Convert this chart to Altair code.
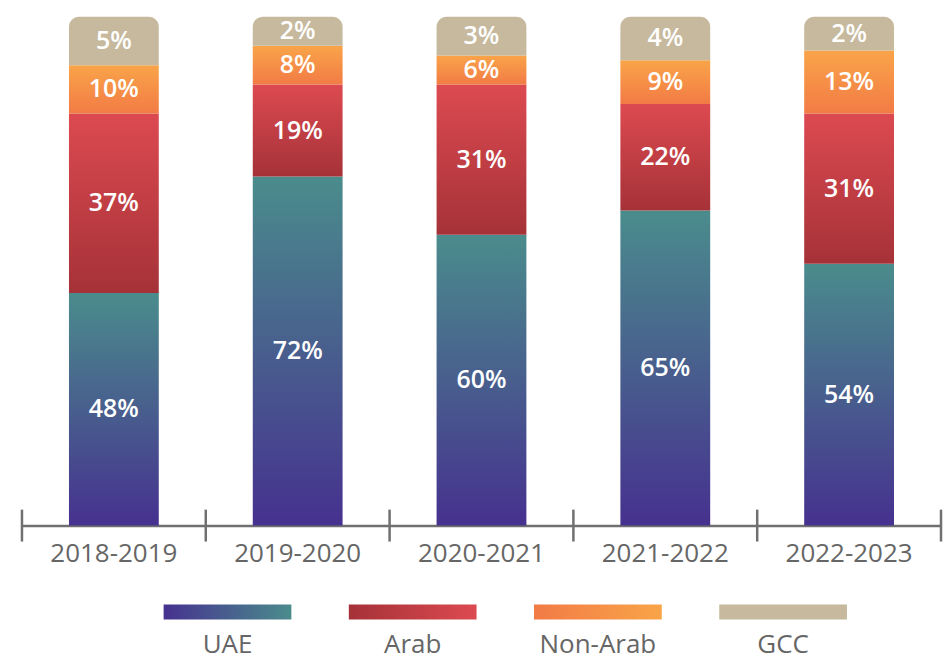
import altair as alt
import pandas as pd

# ---- data ----
years = ["2018-2019", "2019-2020", "2020-2021", "2021-2022", "2022-2023"]
uae = [48, 72, 60, 65, 54]
arab = [37, 19, 31, 22, 31]
non_arab = [10, 8, 6, 9, 13]
gcc = [5, 2, 3, 4, 2]
groups = ["UAE", "Arab", "Non-Arab", "GCC"]

TOP = 105  # common top of the stacked columns (GCC segment fills up to it)

series = {"UAE": uae, "Arab": arab, "Non-Arab": non_arab, "GCC": gcc}
rows = []
for i, yr in enumerate(years):
    base = 0
    for g in groups:
        v = series[g][i]
        y0 = base
        y1 = TOP if g == "GCC" else base + v
        rows.append({"year": yr, "group": g, "value": v, "y0": y0, "y1": y1,
                     "mid": (y0 + y1) / 2, "label": f"{v}%"})
        base += v
df = pd.DataFrame(rows)

# ---- colours ----
cols = {
    "UAE": ("#46318f", "#4a8c8c"),
    "Arab": ("#a53238", "#dc4a50"),
    "Non-Arab": ("#f27b45", "#f9a449"),
    "GCC": ("#c6b99e", "#c6b99e"),
}


def vgrad(bottom, top):
    return alt.LinearGradient(
        gradient="linear",
        stops=[alt.GradientStop(color=bottom, offset=0), alt.GradientStop(color=top, offset=1)],
        x1=0, x2=0, y1=1, y2=0)


def hgrad(left, right):
    return alt.LinearGradient(
        gradient="linear",
        stops=[alt.GradientStop(color=left, offset=0), alt.GradientStop(color=right, offset=1)],
        x1=0, x2=1, y1=0, y2=0)


FONT = "Open Sans"
W, H = 921, 510
AXIS_COL = "#707070"

xscale = alt.Scale(domain=years, paddingInner=0, paddingOuter=0)
xaxis = alt.Axis(title=None, labelAngle=0, domain=True, domainColor=AXIS_COL, domainWidth=2.5,
                 ticks=False, tickSize=0, labelFont=FONT, labelFontSize=26, labelColor="#666666",
                 labelPadding=15, grid=False)
yscale = alt.Scale(domain=[0, TOP], nice=False, zero=True)

layers = []
for g in groups:
    extra = {"cornerRadiusTopLeft": 10, "cornerRadiusTopRight": 10} if g == "GCC" else {}
    layers.append(
        alt.Chart(df).transform_filter(alt.datum.group == g)
        .mark_bar(color=vgrad(*cols[g]), width=alt.RelativeBandSize(0.4886), **extra)
        .encode(x=alt.X("year:N", scale=xscale, axis=xaxis),
                y=alt.Y("y0:Q", scale=yscale, axis=None),
                y2="y1:Q")
    )

text = alt.Chart(df).mark_text(color="white", font=FONT, fontSize=25, fontWeight=600,
                               baseline="middle", align="center").encode(
    x=alt.X("year:N", scale=xscale, axis=xaxis),
    y=alt.Y("mid:Q", scale=yscale, axis=None),
    text="label:N")

tick_df = pd.DataFrame({"year": years})
ticks_start = alt.Chart(tick_df).mark_rule(color=AXIS_COL, strokeWidth=2.5).encode(
    x=alt.X("year:N", scale=xscale, axis=xaxis, bandPosition=0),
    y=alt.value(H - 16), y2=alt.value(H + 16))
ticks_end = alt.Chart(pd.DataFrame({"year": [years[-1]]})).mark_rule(color=AXIS_COL, strokeWidth=2.5).encode(
    x=alt.X("year:N", scale=xscale, axis=xaxis, bandPosition=1),
    y=alt.value(H - 16), y2=alt.value(H + 16))

main = alt.layer(*layers, text, ticks_start, ticks_end).properties(width=W, height=H)

# ---- legend ----
leg_df = pd.DataFrame({"group": groups})
lscale = alt.Scale(domain=groups, paddingInner=0.3103, paddingOuter=0.6363, align=0.601)
laxis = alt.Axis(title=None, labelAngle=0, domain=False, ticks=False, tickSize=0, grid=False,
                 labelFont=FONT, labelFontSize=26, labelColor="#666666", labelPadding=12)
leg_layers = []
for g in groups:
    grad = hgrad(*cols[g])
    leg_layers.append(
        alt.Chart(leg_df).transform_filter(alt.datum.group == g)
        .mark_bar(color=grad)
        .encode(x=alt.X("group:N", scale=lscale, axis=laxis))
    )
legend = alt.layer(*leg_layers).properties(width=W, height=15)

chart = alt.vconcat(main, legend, spacing=38).resolve_scale(x="independent").properties(
    padding={"left": 12, "top": 8, "right": 0, "bottom": 3}
).configure_view(stroke=None)

chart.save("out.html", embed_options={"renderer": "svg", "actions": False})
